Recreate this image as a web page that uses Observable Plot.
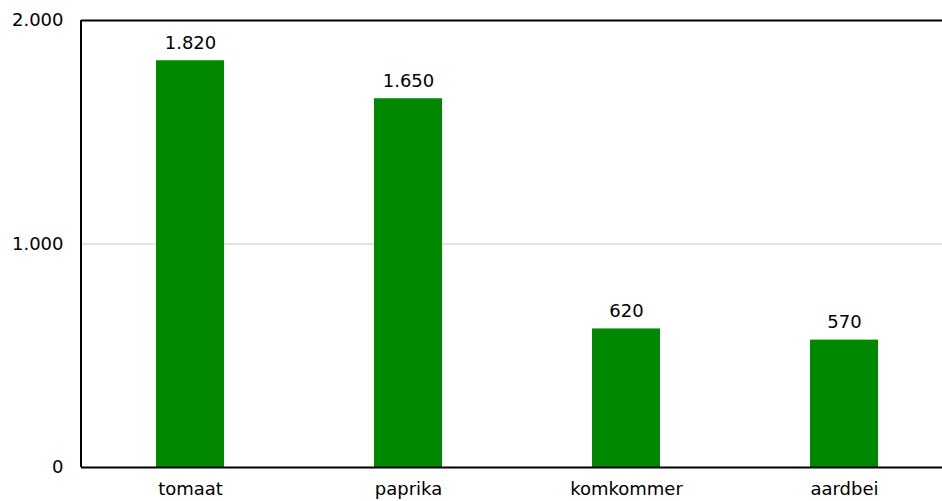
<!DOCTYPE html>
<html>
<head>
<meta charset="utf-8">
<script src="https://cdn.jsdelivr.net/npm/d3@7"></script>
<script src="https://cdn.jsdelivr.net/npm/@observablehq/plot@0.6"></script>
<style>
  html, body { margin: 0; padding: 0; background: #fff; }
  #chart { width: 942px; height: 501px; overflow: hidden; }
</style>
</head>
<body>
<div id="chart"></div>
<script>
const categories = ["tomaat", "paprika", "komkommer", "aardbei"];
const values = [1820, 1650, 620, 570];
const yTicks = [0, 1000, 2000];

const data = categories.map((c, i) => ({category: c, value: values[i]}));
const nl = d3.formatLocale({decimal: ",", thousands: ".", grouping: [3], currency: ["€", ""]});
const fmt = nl.format(",");

const chart = Plot.plot({
  width: 942,
  height: 501,
  marginTop: 20,
  marginBottom: 34,
  marginLeft: 81,
  marginRight: 0,
  style: {fontFamily: "'DejaVu Sans', Verdana, sans-serif", fontSize: "18px", color: "#000", background: "#fff", overflow: "hidden"},
  x: {domain: categories, range: [81, 953], paddingInner: 0.688, paddingOuter: 0.344, label: null},
  y: {domain: [0, 2000], ticks: yTicks, tickFormat: fmt, label: null},
  marks: [
    Plot.gridY(yTicks.filter(d => d > 0 && d < 2000), {stroke: "#d9d9d9", strokeOpacity: 1, strokeWidth: 1.5}),
    Plot.barY(data, {x: "category", y: "value", fill: "#008800"}),
    Plot.text(data, {x: "category", y: "value", text: d => fmt(d.value), lineAnchor: "bottom", dy: -12, fill: "#000", fontSize: 18}),
    Plot.ruleY([2000], {stroke: "#000", strokeWidth: 2}),
    Plot.ruleY([0], {stroke: "#000", strokeWidth: 2}),
    Plot.axisY({ticks: yTicks, tickFormat: fmt, tickSize: 0, tickPadding: 18, label: null}),
    Plot.axisX({tickSize: 0, tickPadding: 15, label: null})
  ]
});
const svg = d3.select(chart);
svg.append("line")
  .attr("x1", 81).attr("x2", 81)
  .attr("y1", 20).attr("y2", 467)
  .attr("stroke", "#000").attr("stroke-width", 2);
document.getElementById("chart").appendChild(chart);
</script>
</body>
</html>
